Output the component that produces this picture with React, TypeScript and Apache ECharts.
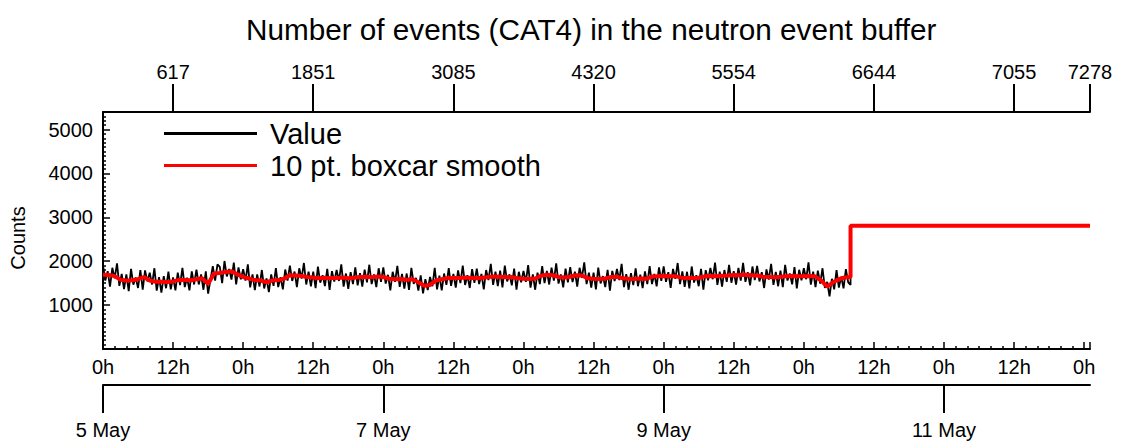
import React, { useEffect, useRef } from 'react';
import * as echarts from 'echarts';

const TITLE = 'Number of events (CAT4) in the neutron event buffer';
const Y_NAME = 'Counts';
const SERIES_NAMES = ['Value', '10 pt. boxcar smooth'];

// top axis: sample index labels at hour positions
const TOP_TICK_HOURS = [12, 36, 60, 84, 108, 132, 156, 169];
const TOP_TICK_LABELS = ['617', '1851', '3085', '4320', '5554', '6644', '7055', '7278'];

// date axis
const DATE_TICK_HOURS = [0, 48, 96, 144];
const DATE_LABELS = ['5 May', '7 May', '9 May', '11 May'];

const X_MIN_HOURS = 0;
const X_MAX_HOURS = 169;
const Y_MIN = 0;
const Y_MAX = 5400;

// raw values, one every 0.4 h from 5 May 0h
const VALUE_STEP_HOURS = 0.4;
const VALUE_COUNTS = [
  1910, 1560, 1775, 1420, 1850, 1610, 1950, 1440, 1710, 1365,
  1700, 1320, 1825, 1465, 1630, 1390, 1800, 1350, 1790, 1540,
  1740, 1470, 1840, 1330, 1635, 1285, 1660, 1385, 1765, 1360,
  1630, 1335, 1740, 1455, 1850, 1410, 1625, 1335, 1770, 1470,
  1810, 1470, 1700, 1350, 1770, 1260, 1580, 1890, 1560, 1930,
  1870, 1500, 2005, 1655, 1825, 1580, 1970, 1470, 1860, 1590,
  1820, 1560, 1930, 1405, 1700, 1340, 1700, 1425, 1800, 1380,
  1610, 1295, 1700, 1440, 1845, 1410, 1635, 1360, 1810, 1560,
  1900, 1550, 1765, 1410, 1840, 1605, 1960, 1470, 1760, 1425,
  1765, 1385, 1875, 1510, 1680, 1435, 1825, 1345, 1775, 1535,
  1800, 1550, 1930, 1420, 1720, 1370, 1750, 1480, 1860, 1450,
  1730, 1420, 1810, 1520, 1920, 1480, 1700, 1410, 1840, 1530,
  1860, 1490, 1690, 1335, 1760, 1530, 1895, 1415, 1710, 1375,
  1720, 1345, 1850, 1485, 1620, 1330, 1680, 1270, 1590, 1345,
  1640, 1430, 1850, 1360, 1670, 1335, 1720, 1460, 1845, 1440,
  1710, 1400, 1790, 1500, 1900, 1460, 1680, 1390, 1820, 1510,
  1830, 1480, 1710, 1360, 1800, 1570, 1940, 1460, 1760, 1435,
  1785, 1405, 1900, 1540, 1700, 1450, 1830, 1350, 1760, 1520,
  1780, 1530, 1910, 1400, 1700, 1350, 1740, 1480, 1890, 1500,
  1780, 1470, 1855, 1560, 1950, 1490, 1700, 1405, 1830, 1520,
  1865, 1525, 1760, 1420, 1850, 1620, 1975, 1480, 1740, 1400,
  1740, 1360, 1855, 1495, 1660, 1410, 1805, 1330, 1780, 1550,
  1825, 1570, 1940, 1410, 1705, 1350, 1730, 1455, 1835, 1430,
  1695, 1385, 1770, 1480, 1890, 1480, 1710, 1425, 1860, 1550,
  1885, 1530, 1750, 1395, 1825, 1600, 1960, 1480, 1770, 1415,
  1760, 1380, 1880, 1515, 1680, 1430, 1825, 1350, 1795, 1565,
  1845, 1590, 1970, 1460, 1765, 1420, 1800, 1530, 1915, 1510,
  1775, 1465, 1850, 1560, 1965, 1530, 1750, 1450, 1880, 1570,
  1895, 1540, 1750, 1390, 1815, 1580, 1940, 1460, 1756, 1430,
  1785, 1410, 1915, 1560, 1720, 1475, 1865, 1380, 1805, 1565,
  1840, 1590, 1975, 1465, 1765, 1410, 1785, 1490, 1840, 1390,
  1530, 1200, 1600, 1360, 1800, 1400, 1650, 1380, 1820, 1520,
  1460,
];

// smoothed values, one every hour from 5 May 0h
const SMOOTH_STEP_HOURS = 1;
const SMOOTH_COUNTS = [
  1690, 1685, 1660, 1575, 1560, 1565, 1590, 1640, 1560, 1530,
  1535, 1525, 1540, 1575, 1570, 1565, 1590, 1610, 1480, 1720,
  1730, 1755, 1770, 1700, 1640, 1605, 1570, 1560, 1520, 1560,
  1570, 1600, 1680, 1675, 1665, 1640, 1630, 1610, 1625, 1615,
  1620, 1630, 1610, 1625, 1640, 1645, 1635, 1650, 1640, 1600,
  1590, 1595, 1580, 1590, 1520, 1440, 1460, 1560, 1590, 1610,
  1620, 1615, 1630, 1620, 1610, 1625, 1640, 1650, 1645, 1635,
  1640, 1610, 1600, 1595, 1605, 1670, 1690, 1680, 1640, 1630,
  1645, 1680, 1675, 1610, 1600, 1595, 1605, 1640, 1645, 1610,
  1600, 1595, 1605, 1600, 1650, 1660, 1665, 1655, 1660, 1625,
  1620, 1615, 1625, 1655, 1665, 1660, 1670, 1675, 1685, 1680,
  1690, 1680, 1675, 1645, 1640, 1635, 1645, 1660, 1665, 1655,
  1660, 1665, 1650, 1560, 1420, 1520, 1590, 1630, 1640,
];

// after the step the buffer holds a constant count
const STEP_HOUR = 128;
const AFTER_STEP_COUNT = 2810;

const FONT = 'Liberation Sans, Arial, Helvetica, sans-serif';

export default function App() {
  const ref = useRef<HTMLDivElement>(null);

  useEffect(() => {
    document.body.style.margin = '0';
    const chart = echarts.init(ref.current!, null, { renderer: 'svg' });

    const valueData: number[][] = VALUE_COUNTS.map((v, i) => [i * VALUE_STEP_HOURS, v]);
    valueData.push([STEP_HOUR, AFTER_STEP_COUNT], [X_MAX_HOURS, AFTER_STEP_COUNT]);
    const smoothData: number[][] = SMOOTH_COUNTS.map((v, i) => [i * SMOOTH_STEP_HOURS, v]);
    smoothData.push([STEP_HOUR, AFTER_STEP_COUNT], [X_MAX_HOURS, AFTER_STEP_COUNT]);

    const lineStyle = { color: '#000', width: 2 };
    const tickStyle = { color: '#000', width: 1.5 };
    const labelBase = { color: '#000', fontSize: 20, fontFamily: FONT };

    const option: any = {
      animation: false,
      backgroundColor: '#fff',
      title: {
        text: TITLE,
        left: 246,
        top: 14,
        padding: 0,
        textStyle: { fontSize: 29.7, fontWeight: 'normal', color: '#000', fontFamily: FONT },
      },
      legend: {
        data: SERIES_NAMES,
        orient: 'vertical',
        left: 164,
        top: 118,
        padding: 0,
        icon: 'rect',
        itemWidth: 93,
        itemHeight: 3,
        itemGap: 1,
        textStyle: { fontSize: 29, lineHeight: 31, color: '#000', fontFamily: FONT, padding: [0, 0, 0, 8] },
      },
      graphic: [
        {
          type: 'text',
          x: 18,
          y: 238,
          rotation: Math.PI / 2,
          style: {
            text: Y_NAME,
            fill: '#000',
            fontSize: 20,
            fontFamily: FONT,
            align: 'center',
            verticalAlign: 'middle',
          },
        },
      ],
      grid: { left: 103, right: 32, top: 112, bottom: 92 },
      xAxis: [
        {
          type: 'value',
          position: 'bottom',
          min: X_MIN_HOURS,
          max: X_MAX_HOURS,
          interval: 12,
          axisLine: { show: true, lineStyle },
          axisTick: { show: true, inside: true, length: 7, lineStyle: tickStyle },
          minorTick: { show: true, splitNumber: 6, length: 3, lineStyle: tickStyle },
          splitLine: { show: false },
          minorSplitLine: { show: false },
          axisLabel: {
            ...labelBase,
            margin: 8,
            showMaxLabel: false,
            formatter: (v: number) => (v % 24 === 0 ? '0h' : v % 24 === 12 ? '12h' : ''),
          },
        },
        {
          type: 'value',
          position: 'bottom',
          offset: 36,
          min: X_MIN_HOURS,
          max: X_MAX_HOURS,
          interval: 48,
          axisLine: { show: true, lineStyle },
          axisTick: { show: true, inside: false, length: 28, lineStyle: { color: '#000', width: 2 }, customValues: DATE_TICK_HOURS },
          splitLine: { show: false },
          axisLabel: {
            ...labelBase,
            margin: 35,
            customValues: DATE_TICK_HOURS,
            formatter: (v: number) => {
              const i = DATE_TICK_HOURS.indexOf(v);
              return i >= 0 ? DATE_LABELS[i] : '';
            },
          },
        },
        {
          type: 'value',
          position: 'top',
          min: X_MIN_HOURS,
          max: X_MAX_HOURS,
          interval: 12,
          axisLine: { show: true, lineStyle },
          axisTick: { show: true, inside: false, length: 28, lineStyle: { color: '#000', width: 2 }, customValues: TOP_TICK_HOURS },
          splitLine: { show: false },
          axisLabel: {
            ...labelBase,
            margin: 30,
            customValues: TOP_TICK_HOURS,
            formatter: (v: number) => {
              const i = TOP_TICK_HOURS.indexOf(v);
              return i >= 0 ? TOP_TICK_LABELS[i] : '';
            },
          },
        },
      ],
      yAxis: {
        type: 'value',
        min: Y_MIN,
        max: Y_MAX,
        interval: 1000,
        axisLine: { show: true, lineStyle },
        axisTick: { show: true, inside: true, length: 7, lineStyle: tickStyle },
        minorTick: { show: true, splitNumber: 10, length: 3, lineStyle: tickStyle },
        splitLine: { show: false },
        minorSplitLine: { show: false },
        axisLabel: {
          ...labelBase,
          margin: 10,
          formatter: (v: number) => (v === 0 || v > 5000 ? '' : String(v)),
        },
      },
      series: [
        {
          name: SERIES_NAMES[0],
          type: 'line',
          xAxisIndex: 0,
          data: valueData,
          symbol: 'none',
          color: '#000',
          lineStyle: { color: '#000', width: 1.8 },
          z: 2,
        },
        {
          name: SERIES_NAMES[1],
          type: 'line',
          xAxisIndex: 0,
          data: smoothData,
          symbol: 'none',
          color: '#ff0000',
          lineStyle: { color: '#ff0000', width: 4 },
          z: 3,
        },
      ],
    };

    chart.setOption(option);
    return () => chart.dispose();
  }, []);

  return <div ref={ref} style={{ width: 1122, height: 441 }} />;
}
